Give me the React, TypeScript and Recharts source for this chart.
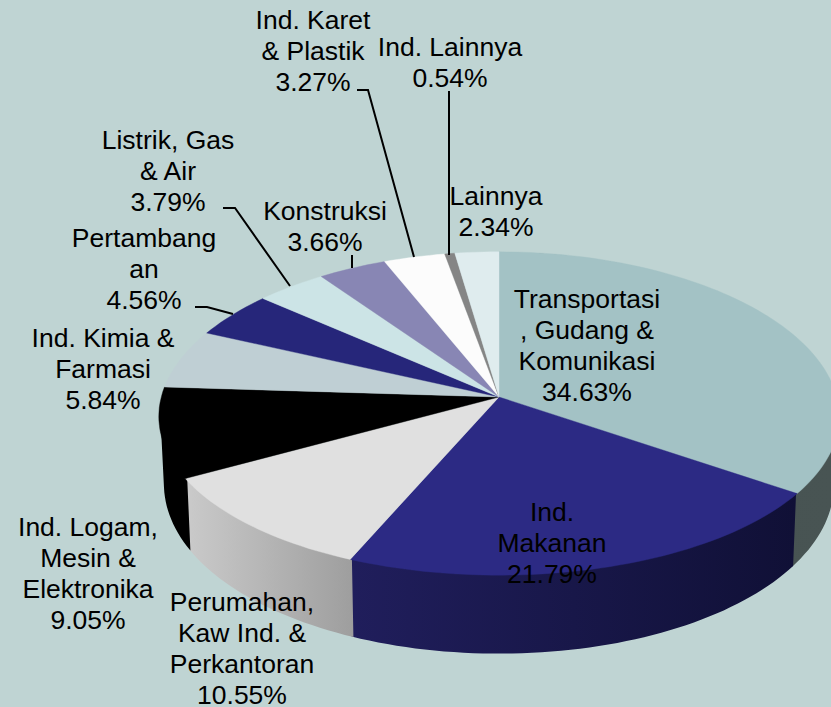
import { PieChart, Pie, Cell } from 'recharts';

const categories = [
  ['Transportasi', ', Gudang &', 'Komunikasi'],
  ['Ind.', 'Makanan'],
  ['Perumahan,', 'Kaw Ind. &', 'Perkantoran'],
  ['Ind. Logam,', 'Mesin &', 'Elektronika'],
  ['Ind. Kimia &', 'Farmasi'],
  ['Pertambang', 'an'],
  ['Listrik, Gas', '& Air'],
  ['Konstruksi'],
  ['Ind. Karet', '& Plastik'],
  ['Ind. Lainnya'],
  ['Lainnya'],
];
const values = [34.63, 21.79, 10.55, 9.05, 5.84, 4.56, 3.79, 3.66, 3.27, 0.54, 2.34];

const faceColors = ['#a3c2c5', '#2c2a84', '#e0e0e0', '#000000', '#bfcfd4', '#26267a', '#cce4e6', '#8886b4', '#fcfcfc', '#858585', '#dfecee'];
const wallFills = ['url(#wallSlate)', 'url(#wallNavy)', 'url(#wallGrey)', '#000000'];

// label anchor: centre x, first baseline y, then the leader line if there is one
const labelLayout: { x: number; y: number; leader?: [number, number][] }[] = [
  { x: 587, y: 308 },
  { x: 552, y: 521 },
  { x: 242, y: 611 },
  { x: 88, y: 536 },
  { x: 103, y: 347 },
  { x: 144, y: 247, leader: [[195, 307], [207, 307], [233, 314]] },
  { x: 168, y: 149, leader: [[223, 208], [235, 208], [290, 286]] },
  { x: 325, y: 220, leader: [[352, 255], [352, 268]] },
  { x: 313, y: 29, leader: [[357, 90], [368, 90], [414, 257]] },
  { x: 450, y: 56, leader: [[449, 91], [449, 255]] },
  { x: 496, y: 205 },
];

const data = categories.map((lines, i) => ({ name: lines.join(' '), value: values[i] }));

// the pie is seen in perspective: near edge bigger than far edge
const PERSPECTIVE_X = 0.12;
const PERSPECTIVE_Y = 0.102;
const RADIUS = 337.7;
const SQUASH = 160 / RADIUS;
const BOTTOM_DROP = 66;
const BOTTOM_SCALE_X = 0.985;
const BOTTOM_SCALE_Y = 1.07;

function rim(cx: number, cy: number, r: number, deg: number, bottom = false) {
  const rad = (deg * Math.PI) / 180;
  const u = Math.cos(rad);
  const v = -Math.sin(rad);
  const x = (r * u) / (1 - PERSPECTIVE_X * v);
  const y = (r * SQUASH * v) / (1 - PERSPECTIVE_Y * v);
  if (bottom) return [cx + x * BOTTOM_SCALE_X, cy + BOTTOM_DROP + y * BOTTOM_SCALE_Y];
  return [cx + x, cy + y];
}

function sweep(from: number, to: number) {
  const steps = Math.max(2, Math.ceil(Math.abs(to - from) / 1.5));
  return Array.from({ length: steps + 1 }, (_, i) => from + ((to - from) * i) / steps);
}

const toPath = (pts: number[][]) => 'M' + pts.map((p) => `${p[0].toFixed(1)},${p[1].toFixed(1)}`).join('L') + 'Z';

function signedArea(pts: number[][]) {
  return pts.reduce((sum, p, i) => {
    const q = pts[(i + 1) % pts.length];
    return sum + p[0] * q[1] - q[0] * p[1];
  }, 0);
}

function FaceShape(props: any) {
  const { cx, cy, outerRadius, startAngle, endAngle, fill } = props;
  const pts = [[cx, cy], ...sweep(startAngle, endAngle).map((a) => rim(cx, cy, outerRadius, a))];
  return <path d={toPath(pts)} fill={fill} stroke={fill} strokeWidth={0.4} />;
}

// wall is a row of strips, all wound the same way, so the fold at the pie's side stays filled.
// its top edge tucks just under the face, and neighbours overlap a hair, to hide seams
function WallShape(props: any) {
  const { cx, cy, outerRadius, startAngle, endAngle, fill } = props;
  if (!fill) return null;
  const tucked = outerRadius * 0.995;
  const angles = sweep(startAngle + 0.15, endAngle - 0.15);
  const strips = angles.slice(1).map((a, i) => {
    const prev = angles[i];
    const quad = [rim(cx, cy, tucked, prev), rim(cx, cy, tucked, a), rim(cx, cy, outerRadius, a, true), rim(cx, cy, outerRadius, prev, true)];
    return toPath(signedArea(quad) < 0 ? quad.reverse() : quad);
  });
  return <path d={strips.join('')} fill={fill} />;
}

function renderLabel(props: any) {
  const { index, value } = props;
  const place = labelLayout[index];
  const lines = [...categories[index], `${value.toFixed(2)}%`];
  return (
    <g key={index}>
      {place.leader && (
        <polyline
          points={place.leader.map((p) => p.join(',')).join(' ')}
          fill="none"
          stroke="#000000"
          strokeWidth={2}
        />
      )}
      <text
        x={place.x}
        y={place.y}
        textAnchor="middle"
        fontFamily="'Liberation Sans', Arial, sans-serif"
        fontSize={26.5}
        fill="#000000"
      >
        {lines.map((line, i) => (
          <tspan key={i} x={place.x} dy={i === 0 ? 0 : 31}>
            {line}
          </tspan>
        ))}
      </text>
    </g>
  );
}

export default function App() {
  return (
    <div style={{ position: 'absolute', left: 0, top: 0, width: 831, height: 707, background: '#bfd4d3', overflow: 'hidden' }}>
      <PieChart width={831} height={707} margin={{ top: 0, right: 0, bottom: 0, left: 0 }}>
        <defs>
          <linearGradient id="wallSlate" x1="0" y1="0" x2="1" y2="0">
            <stop offset="0%" stopColor="#465251" />
            <stop offset="100%" stopColor="#485453" />
          </linearGradient>
          <linearGradient id="wallNavy" x1="0" y1="0" x2="1" y2="0">
            <stop offset="0%" stopColor="#201e5c" />
            <stop offset="100%" stopColor="#101036" />
          </linearGradient>
          <linearGradient id="wallGrey" x1="0" y1="0" x2="1" y2="0">
            <stop offset="0%" stopColor="#cacaca" />
            <stop offset="100%" stopColor="#9e9e9e" />
          </linearGradient>
        </defs>
        <Pie
          data={data}
          dataKey="value"
          cx={499}
          cy={397}
          outerRadius={RADIUS}
          startAngle={90}
          endAngle={-270}
          paddingAngle={0}
          isAnimationActive={false}
          shape={WallShape}
          stroke="none"
        >
          {data.map((_, i) => (
            <Cell key={`wall-${i}`} fill={wallFills[i]} />
          ))}
        </Pie>
        <Pie
          data={data}
          dataKey="value"
          cx={499}
          cy={397}
          outerRadius={RADIUS}
          startAngle={90}
          endAngle={-270}
          paddingAngle={0}
          isAnimationActive={false}
          shape={FaceShape}
          label={renderLabel}
          labelLine={false}
          stroke="none"
        >
          {data.map((_, i) => (
            <Cell key={`face-${i}`} fill={faceColors[i]} />
          ))}
        </Pie>
      </PieChart>
    </div>
  );
}
